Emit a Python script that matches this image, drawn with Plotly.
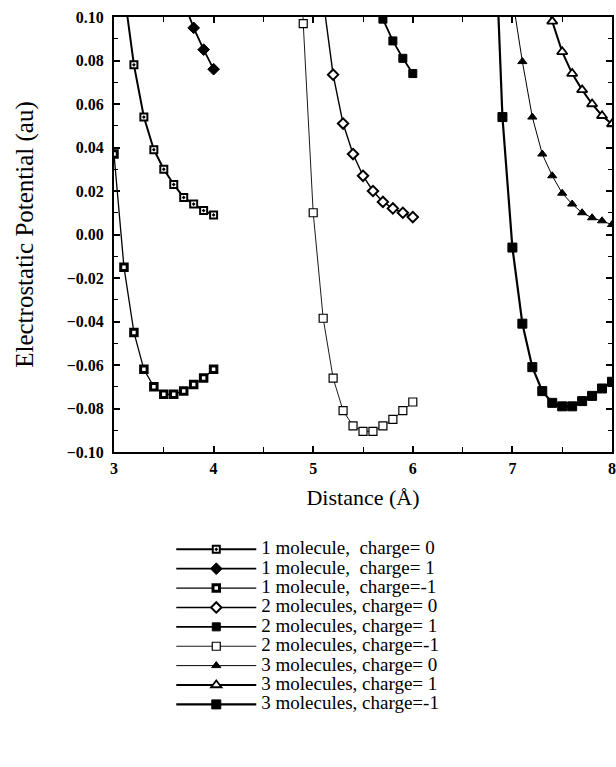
import plotly.graph_objects as go

# ---- data ----
x_1m_q0 = [3.1, 3.2, 3.3, 3.4, 3.5, 3.6, 3.7, 3.8, 3.9, 4.0]
y_1m_q0 = [0.112, 0.078, 0.054, 0.039, 0.030, 0.023, 0.017, 0.014, 0.011, 0.009]

x_1m_q1 = [3.7, 3.8, 3.9, 4.0]
y_1m_q1 = [0.107, 0.095, 0.085, 0.076]

x_1m_qm1 = [3.0, 3.1, 3.2, 3.3, 3.4, 3.5, 3.6, 3.7, 3.8, 3.9, 4.0]
y_1m_qm1 = [0.037, -0.015, -0.045, -0.062, -0.070, -0.0735, -0.0735, -0.072, -0.069, -0.066, -0.062]

x_2m_q0 = [5.1, 5.2, 5.3, 5.4, 5.5, 5.6, 5.7, 5.8, 5.9, 6.0]
y_2m_q0 = [0.108, 0.0735, 0.051, 0.037, 0.027, 0.020, 0.015, 0.012, 0.010, 0.008]

x_2m_q1 = [5.6, 5.7, 5.8, 5.9, 6.0]
y_2m_q1 = [0.112, 0.099, 0.089, 0.081, 0.074]

x_2m_qm1 = [4.8, 4.9, 5.0, 5.1, 5.2, 5.3, 5.4, 5.5, 5.6, 5.7, 5.8, 5.9, 6.0]
y_2m_qm1 = [0.25, 0.097, 0.010, -0.0385, -0.066, -0.081, -0.088, -0.0905, -0.0905, -0.088, -0.085, -0.081, -0.077]

x_3m_q0 = [7.0, 7.1, 7.2, 7.3, 7.4, 7.5, 7.6, 7.7, 7.8, 7.9, 8.0]
y_3m_q0 = [0.109, 0.0795, 0.054, 0.037, 0.027, 0.019, 0.014, 0.010, 0.0077, 0.0063, 0.0046]

x_3m_q1 = [7.3, 7.4, 7.5, 7.6, 7.7, 7.8, 7.9, 8.0]
y_3m_q1 = [0.115, 0.098, 0.084, 0.074, 0.0665, 0.060, 0.0546, 0.0508]

x_3m_qm1 = [6.8, 6.9, 7.0, 7.1, 7.2, 7.3, 7.4, 7.5, 7.6, 7.7, 7.8, 7.9, 8.0]
y_3m_qm1 = [0.17, 0.054, -0.006, -0.041, -0.061, -0.072, -0.0774, -0.079, -0.079, -0.0766, -0.0742, -0.0708, -0.0677]

names = [
    "1 molecule,\u00a0\u00a0charge= 0",
    "1 molecule,\u00a0\u00a0charge= 1",
    "1 molecule,\u00a0\u00a0charge=-1",
    "2 molecules, charge= 0",
    "2 molecules, charge= 1",
    "2 molecules, charge=-1",
    "3 molecules, charge= 0",
    "3 molecules, charge= 1",
    "3 molecules, charge=-1",
]

series = [
    (x_1m_q0, y_1m_q0), (x_1m_q1, y_1m_q1), (x_1m_qm1, y_1m_qm1),
    (x_2m_q0, y_2m_q0), (x_2m_q1, y_2m_q1), (x_2m_qm1, y_2m_qm1),
    (x_3m_q0, y_3m_q0), (x_3m_q1, y_3m_q1), (x_3m_qm1, y_3m_qm1),
]

# style: (line width, symbol, fill color, marker outline width, size)
styles = [
    (2.0, "square-dot", "white", 2.0, 7),
    (1.8, "diamond", "black", 1.0, 9),
    (1.3, "square", "white", 3.0, 6.5),
    (1.4, "diamond", "white", 2.0, 8),
    (1.8, "square", "black", 1.0, 8),
    (0.9, "square", "white", 1.2, 8),
    (1.0, "triangle-up", "black", 1.0, 8),
    (2.0, "triangle-up", "white", 1.8, 9),
    (2.2, "square", "black", 1.0, 9),
]

serif = "Liberation Serif"

fig = go.Figure()
for (xs, ys), nm, (lw, sym, fc, mlw, ms) in zip(series, names, styles):
    fig.add_trace(go.Scatter(
        x=xs, y=ys,
        name="<span style='font-size:19px'>" + nm + "</span>",
        mode="lines+markers",
        line=dict(color="black", width=lw),
        marker=dict(symbol=sym, color=fc, size=ms,
                    line=dict(color="black", width=mlw)),
    ))

fig.update_layout(
    width=616, height=767,
    margin=dict(l=114, r=4, t=17, b=315),
    paper_bgcolor="white", plot_bgcolor="white",
    font=dict(family=serif, color="black"),
    showlegend=True,
    legend=dict(
        x=0.115, y=-0.19, xanchor="left", yanchor="top",
        font=dict(family=serif, size=12.6, color="black"),
        itemwidth=80, bgcolor="rgba(0,0,0,0)", tracegroupgap=0,
        traceorder="normal",
    ),
    xaxis=dict(
        range=[3, 8], dtick=1, tick0=3, automargin=False,
        showgrid=False, zeroline=False,
        showline=True, linecolor="black", linewidth=2, mirror="ticks",
        ticks="inside", ticklen=6, tickwidth=1.5, tickcolor="black",
        minor=dict(dtick=0.5, ticks="inside", ticklen=5, tickwidth=1.2, tickcolor="black"),
        tickfont=dict(family=serif, size=16, color="black", weight="bold"),
        ticklabelstandoff=1,
        title=dict(text="Distance (Å)", font=dict(family=serif, size=22, color="black"), standoff=13),
    ),
    yaxis=dict(
        range=[-0.10, 0.10], dtick=0.02, tick0=0, automargin=False,
        tickformat=".2f",
        showgrid=False, zeroline=False,
        showline=True, linecolor="black", linewidth=2, mirror="ticks",
        ticks="inside", ticklen=6, tickwidth=1.5, tickcolor="black",
        minor=dict(dtick=0.01, ticks="inside", ticklen=4, tickwidth=1.2, tickcolor="black"),
        tickfont=dict(family=serif, size=16, color="black", weight="bold"),
        ticklabelstandoff=5,
        title=dict(text="Electrostatic Potential (au)", font=dict(family=serif, size=25, color="black"), standoff=26),
    ),
)

fig.write_html("out.html", config={"displayModeBar": False},
               post_script="document.body.style.margin='0px';")
